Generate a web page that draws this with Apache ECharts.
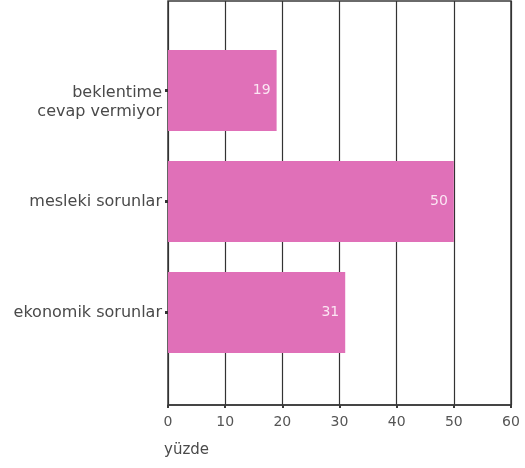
<!DOCTYPE html>
<html>
<head>
<meta charset="utf-8">
<script src="https://cdn.jsdelivr.net/npm/echarts@6/dist/echarts.min.js"></script>
<style>html,body{margin:0;padding:0;background:#fff}#c{width:525px;height:468px}</style>
</head>
<body>
<div id="c"></div>
<script>
const categories = ['beklentime\ncevap vermiyor', 'mesleki sorunlar', 'ekonomik sorunlar'];
const values = [19, 50, 31];
const xTicks = [0, 10, 20, 30, 40, 50, 60];
const axisTitle = 'yüzde';

const FONT = 'DejaVu Sans';
const chart = echarts.init(document.getElementById('c'), null, {renderer: 'canvas'});
chart.setOption({
  backgroundColor: '#fff',
  animation: false,
  textStyle: {fontFamily: FONT},
  grid: [
    {left: 168, right: 14, top: 1, bottom: 63, show: true, borderColor: '#3a3a3a', borderWidth: 1.5, backgroundColor: 'transparent'},
    {left: 168, right: 14, top: 35, bottom: 100}
  ],
  graphic: [{
    type: 'text', left: 164, top: 443,
    style: {text: axisTitle, font: '15px "' + FONT + '"', fill: '#4a4a4a'}
  }],
  xAxis: [
    {
      gridIndex: 0, type: 'value', min: xTicks[0], max: xTicks[xTicks.length - 1], interval: 10,
      axisLine: {show: true, lineStyle: {color: '#3a3a3a', width: 1.5}},
      axisTick: {show: true, length: 3, lineStyle: {color: '#3a3a3a', width: 2}},
      splitLine: {show: true, lineStyle: {color: '#333', width: 1.2}},
      axisLabel: {color: '#555', fontSize: 14, margin: 10, fontFamily: FONT}
    },
    {
      gridIndex: 1, type: 'value', min: xTicks[0], max: xTicks[xTicks.length - 1],
      show: false, splitLine: {show: false}
    }
  ],
  yAxis: [
    {
      gridIndex: 0, type: 'value', show: false, splitLine: {show: false}
    },
    {
      gridIndex: 1, type: 'category', data: categories, inverse: true,
      axisLine: {show: false},
      axisTick: {show: true, alignWithLabel: true, length: 3, lineStyle: {color: '#333', width: 3}},
      axisLabel: {
        color: '#4a4a4a', fontSize: 16, margin: 6, fontFamily: FONT,
        formatter: function (v) {
          const parts = v.split('\n');
          if (parts.length === 1) return '{a|' + v + '}';
          return '{s| }\n' + parts.map(function (p) { return '{a|' + p + '}'; }).join('\n');
        },
        rich: {
          a: {fontSize: 16, lineHeight: 19, color: '#4a4a4a', fontFamily: FONT},
          s: {fontSize: 4, lineHeight: 24}
        }
      }
    }
  ],
  series: [{
    type: 'bar', xAxisIndex: 1, yAxisIndex: 1,
    data: values, barWidth: 81,
    itemStyle: {color: '#e070b8'},
    label: {show: true, position: 'insideRight', distance: 6, color: '#fbe6f3', fontSize: 14, fontFamily: FONT}
  }]
});
</script>
</body>
</html>
